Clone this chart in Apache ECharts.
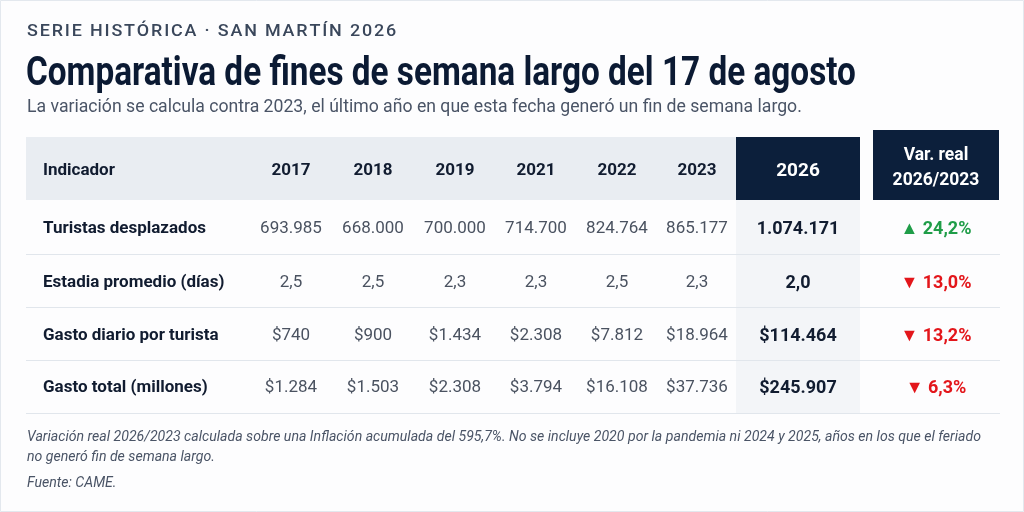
<!DOCTYPE html>
<html>
<head>
<meta charset="utf-8">
<script src="https://cdn.jsdelivr.net/npm/echarts@6/dist/echarts.min.js"></script>
<style>
html,body{margin:0;padding:0;background:#ffffff;}
#chart{width:1024px;height:512px;}
</style>
</head>
<body>
<div id="chart"></div>
<script>
// datos de la tabla (CAME)
var anios = ['2017', '2018', '2019', '2021', '2022', '2023', '2026'];
var indicadores = ['Turistas desplazados', 'Estadia promedio (días)', 'Gasto diario por turista', 'Gasto total (millones)'];
var turistas = [693985, 668000, 700000, 714700, 824764, 865177, 1074171];
var estadia = [2.5, 2.5, 2.3, 2.3, 2.5, 2.3, 2.0];
var gastoDiario = [740, 900, 1434, 2308, 7812, 18964, 114464];
var gastoTotal = [1284, 1503, 2308, 3794, 16108, 37736, 245907];
var variacion = [24.2, -13.0, -13.2, -6.3];

// posiciones (en pixeles del lienzo)
var colX = [291, 373, 455, 536, 617, 697, 798];
var varX = 936;
var labelX = 43;
var headY = 171;
var rowY = [229, 283, 336, 388];
var rowLines = [254, 307, 360, 413];

var NAVY = '#0c1f3b';
var FONT = 'Roboto, "Noto Sans", sans-serif';

function miles(n) {
    return String(n).replace(/\B(?=(\d{3})+(?!\d))/g, '.');
}
function dec(n) {
    return n.toFixed(1).replace('.', ',');
}
// separa las letras con un espacio fino
function espaciado(s) {
    return s.split('').join('\u200A');
}
var formatos = [
    function (v) { return miles(v); },
    function (v) { return dec(v); },
    function (v) { return '$' + miles(v); },
    function (v) { return '$' + miles(v); }
];
var filas = [turistas, estadia, gastoDiario, gastoTotal];

// celdas de texto
var celdas = [];
celdas.push({x: labelX, y: headY, text: 'Indicador', align: 'left', color: '#111c30', weight: 'bold', size: 17});
for (var c = 0; c < anios.length; c++) {
    var ult = c == anios.length - 1;
    celdas.push({x: colX[c], y: headY, text: anios[c], align: 'center', color: ult ? '#ffffff' : '#111c30', weight: 'bold', size: ult ? 19 : 17});
}
celdas.push({x: varX, y: headY - 15, text: 'Var. real', align: 'center', color: '#ffffff', weight: 'bold', size: 17.5});
celdas.push({x: varX, y: headY + 10, text: '2026/2023', align: 'center', color: '#ffffff', weight: 'bold', size: 17.5});
for (var r = 0; r < indicadores.length; r++) {
    celdas.push({x: labelX, y: rowY[r], text: indicadores[r], align: 'left', color: '#111c30', weight: 'bold', size: 17});
    for (var c = 0; c < anios.length; c++) {
        var ult = c == anios.length - 1;
        celdas.push({
            x: colX[c], y: rowY[r], text: formatos[r](filas[r][c]), align: 'center',
            color: ult ? '#111c30' : '#4a5260', weight: ult ? 'bold' : 'normal', size: ult ? 18 : 17
        });
    }
    var v = variacion[r];
    celdas.push({
        x: varX, y: rowY[r], text: (v >= 0 ? '\u25B2 ' : '\u25BC ') + dec(Math.abs(v)) + '%', align: 'center',
        color: v >= 0 ? '#1f9d48' : '#e3161b', weight: 'bold', size: 18
    });
}

// fondos de la tabla [x0, y0, x1, y1]
var fondos = [
    {box: [26, 137, 736, 200], color: '#e9edf2'},
    {box: [736, 200, 860, 413], color: '#f3f5f8'},
    {box: [736, 137, 860, 200], color: NAVY},
    {box: [873, 130, 999, 200], color: NAVY}
];

var chart = echarts.init(document.getElementById('chart'));
var option = {
    backgroundColor: '#fdfdfe',
    animation: false,
    grid: {left: 0, right: 0, top: 0, bottom: 0},
    xAxis: {type: 'value', min: 0, max: 1024, show: false},
    yAxis: {type: 'value', min: 0, max: 512, inverse: true, show: false},
    graphic: [
        {type: 'rect', shape: {x: 0.5, y: 0.5, width: 1023, height: 511}, style: {fill: 'none', stroke: '#e3e8ee', lineWidth: 1}},
        {type: 'text', x: 27, y: 23, style: {text: espaciado('SERIE HISTÓRICA · SAN MARTÍN 2026'), font: '500 17px ' + FONT, fill: '#3a475b'}, scaleX: 1.055},
        {type: 'text', x: 26, y: 55, style: {text: 'Comparativa de fines de semana largo del 17 de agosto', font: 'bold 40px ' + FONT, fill: '#0b1a33'}, scaleX: 0.833},
        {type: 'text', x: 27, y: 98, style: {text: 'La variación se calcula contra 2023, el último año en que esta fecha generó un fin de semana largo.', font: '18px ' + FONT, fill: '#4a5466'}, scaleX: 0.98},
        {type: 'text', x: 27, y: 430, style: {text: 'Variación real 2026/2023 calculada sobre una Inflación acumulada del 595,7%. No se incluye 2020 por la pandemia ni 2024 y 2025, años en los que el feriado', font: 'italic 15px ' + FONT, fill: '#4a5466'}, scaleX: 0.94},
        {type: 'text', x: 27, y: 450, style: {text: 'no generó fin de semana largo.', font: 'italic 15px ' + FONT, fill: '#4a5466'}, scaleX: 0.94},
        {type: 'text', x: 27, y: 476, style: {text: 'Fuente: CAME.', font: 'italic 15px ' + FONT, fill: '#4a5466'}, scaleX: 0.94}
    ],
    series: [
        {
            type: 'custom',
            name: 'fondos',
            silent: true,
            data: fondos.map(function (f) { return f.box; }),
            renderItem: function (params, api) {
                var p0 = api.coord([api.value(0), api.value(1)]);
                var p1 = api.coord([api.value(2), api.value(3)]);
                return {
                    type: 'rect',
                    shape: {x: p0[0], y: p0[1], width: p1[0] - p0[0], height: p1[1] - p0[1]},
                    style: {fill: fondos[params.dataIndex].color}
                };
            }
        },
        {
            type: 'custom',
            name: 'lineas',
            silent: true,
            data: rowLines.map(function (y) { return [26, y, 1000]; }),
            renderItem: function (params, api) {
                var p0 = api.coord([api.value(0), api.value(1)]);
                var p1 = api.coord([api.value(2), api.value(1)]);
                return {
                    type: 'line',
                    shape: {x1: p0[0], y1: p0[1] + 0.5, x2: p1[0], y2: p1[1] + 0.5},
                    style: {stroke: '#e1e6ec', lineWidth: 1}
                };
            }
        },
        {
            type: 'custom',
            name: 'celdas',
            silent: true,
            data: celdas.map(function (d) { return [d.x, d.y]; }),
            renderItem: function (params, api) {
                var d = celdas[params.dataIndex];
                var p = api.coord([api.value(0), api.value(1)]);
                return {
                    type: 'text',
                    x: p[0], y: p[1],
                    style: {
                        text: d.text,
                        font: d.weight + ' ' + d.size + 'px ' + FONT,
                        fill: d.color,
                        align: d.align,
                        verticalAlign: 'middle'
                    }
                };
            }
        }
    ]
};
chart.setOption(option);
</script>
</body>
</html>
